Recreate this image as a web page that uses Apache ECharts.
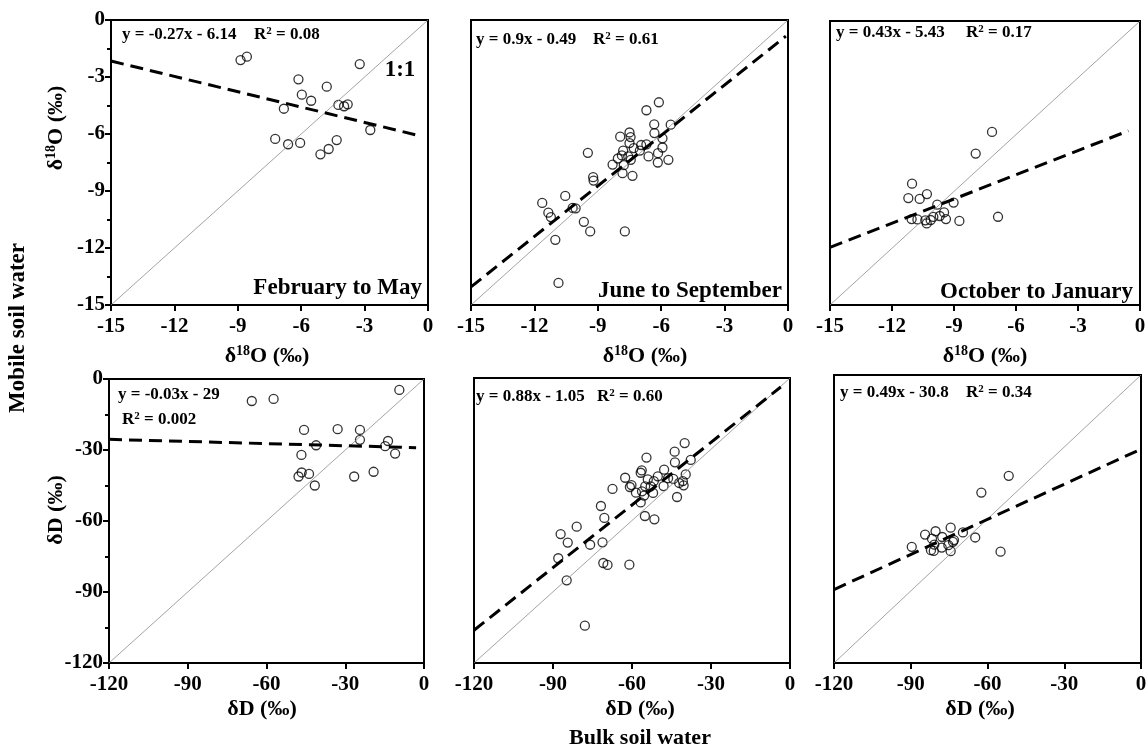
<!DOCTYPE html>
<html><head><meta charset="utf-8">
<script src="https://cdn.jsdelivr.net/npm/echarts@6/dist/echarts.min.js"></script>
<style>html,body{margin:0;padding:0;background:#fff}#c{width:1148px;height:751px}</style>
</head><body><div id="c"></div>
<script>
// ---------- data ----------
const periods = ['February to May', 'June to September', 'October to January'];
const o18Ticks = [-15, -12, -9, -6, -3, 0];
const dDTicks = [-120, -90, -60, -30, 0];

// [bulk soil water, mobile soil water]
const o18FebMay = [[-8.87,-2.11],[-8.57,-1.93],[-3.23,-2.32],[-6.13,-3.12],[-4.79,-3.51],[-5.97,-3.93],
  [-5.53,-4.25],[-6.82,-4.67],[-4.24,-4.47],[-3.97,-4.54],[-3.8,-4.44],[-2.73,-5.79],[-7.23,-6.26],
  [-6.62,-6.54],[-6.05,-6.47],[-4.32,-6.32],[-4.7,-6.79],[-5.09,-7.07]];
const o18JunSep = [[-6.11,-4.33],[-6.7,-4.75],[-6.33,-5.49],[-5.55,-5.51],[-6.32,-5.95],[-5.94,-6.23],
  [-7.94,-6.14],[-7.5,-5.92],[-7.45,-6.16],[-7.5,-6.48],[-6.95,-6.58],[-6.7,-6.55],[-7.01,-6.87],
  [-7.3,-6.74],[-7.8,-6.87],[-5.94,-6.71],[-6.15,-7.01],[-6.16,-7.5],[-5.66,-7.36],[-6.6,-7.18],
  [-7.56,-7.18],[-7.86,-7.13],[-8.05,-7.29],[-7.44,-7.36],[-8.3,-7.61],[-7.77,-7.64],[-7.83,-8.06],
  [-7.36,-8.2],[-9.47,-6.99],[-9.22,-8.27],[-9.2,-8.45],[-10.54,-9.26],[-11.63,-9.63],[-11.34,-10.14],
  [-11.22,-10.37],[-10.19,-9.89],[-10.05,-9.91],[-9.66,-10.62],[-9.36,-11.13],[-7.72,-11.13],
  [-11.01,-11.57],[-10.86,-13.84]];
const o18OctJan = [[-7.16,-5.86],[-7.95,-7.0],[-11.03,-8.59],[-11.21,-9.35],[-10.31,-9.14],[-10.66,-9.4],
  [-9.81,-9.7],[-9.02,-9.59],[-9.48,-10.11],[-9.69,-10.3],[-9.39,-10.46],[-10.0,-10.35],[-10.13,-10.51],
  [-10.39,-10.53],[-10.32,-10.69],[-10.77,-10.48],[-11.05,-10.46],[-8.74,-10.56],[-6.87,-10.34]];
const dDFebMay = [[-9.4,-4.6],[-65.6,-9.3],[-57.3,-8.4],[-45.7,-21.5],[-32.9,-21.2],[-24.4,-21.5],
  [-24.4,-25.7],[-41.1,-28.0],[-13.7,-26.2],[-14.8,-28.4],[-11.0,-31.5],[-46.7,-32.1],[-46.6,-39.5],
  [-47.8,-41.2],[-43.8,-40.1],[-41.6,-45.0],[-26.6,-41.2],[-19.2,-39.2]];
const dDJunSep = [[-40.0,-27.4],[-43.8,-31.0],[-43.7,-35.5],[-37.7,-34.5],[-54.5,-33.5],[-56.3,-38.9],
  [-56.7,-39.9],[-47.8,-38.6],[-39.6,-40.6],[-50.2,-41.4],[-54.0,-42.7],[-51.7,-43.4],[-46.3,-42.2],
  [-44.3,-42.5],[-40.7,-43.4],[-42.1,-44.2],[-40.4,-45.2],[-48.0,-45.5],[-62.6,-42.0],[-60.2,-45.1],
  [-60.8,-45.9],[-55.0,-45.6],[-52.9,-45.6],[-56.2,-47.7],[-58.5,-48.3],[-55.4,-49.5],[-52.0,-48.4],
  [-67.4,-46.7],[-56.7,-52.4],[-42.9,-50.1],[-71.8,-53.9],[-70.5,-58.9],[-55.1,-58.1],[-51.5,-59.5],
  [-81.0,-62.6],[-87.1,-65.7],[-84.4,-69.3],[-75.9,-70.2],[-71.2,-69.2],[-88.0,-75.9],[-70.9,-77.9],
  [-69.3,-78.7],[-61.0,-78.6],[-84.8,-85.2],[-77.9,-104.3]];
const dDOctJan = [[-51.7,-42.0],[-62.4,-49.0],[-74.4,-63.6],[-69.6,-65.6],[-80.3,-65.1],[-84.4,-66.5],
  [-81.7,-68.2],[-77.7,-67.5],[-73.1,-68.8],[-73.5,-69.5],[-80.8,-70.7],[-75.3,-70.9],[-77.9,-71.9],
  [-82.1,-73.0],[-81.0,-73.3],[-74.4,-73.4],[-89.6,-71.6],[-64.8,-67.7],[-54.9,-73.6]];

// fitted (dashed) regression lines, end points
const fitO18FebMay = [[-15,-2.16],[-0.55,-6.05]];
const fitO18JunSep = [[-15,-14.05],[-0.1,-0.85]];
const fitO18OctJan = [[-15,-11.96],[-0.56,-5.8]];
const fitDDFebMay = [[-120,-25.5],[-3.0,-29.0]];
const fitDDJunSep = [[-120,-106.2],[-3.5,-3.8]];
const fitDDOctJan = [[-120,-89.4],[-0.26,-31.0]];

const oneToOneO18 = [[-15,-15],[0,0]];
const oneToOneDD = [[-120,-120],[0,0]];

const eqTexts = ['y = -0.27x - 6.14', 'y = 0.9x - 0.49', 'y = 0.43x - 5.43',
                 'y = -0.03x - 29', 'y = 0.88x - 1.05', 'y = 0.49x - 30.8'];
const r2Texts = ['0.08', '0.61', '0.17', '0.002', '0.60', '0.34'];

// ---------- layout / style ----------
const FF = "'Liberation Serif','Times New Roman',serif";
const panelData = [o18FebMay, o18JunSep, o18OctJan, dDFebMay, dDJunSep, dDOctJan];
const panelFit = [fitO18FebMay, fitO18JunSep, fitO18OctJan, fitDDFebMay, fitDDJunSep, fitDDOctJan];
const gridBoxes = [
  {left:111, top:20, width:317, height:285},
  {left:471, top:20, width:317, height:285},
  {left:830, top:21, width:310, height:284},
  {left:109, top:379, width:315, height:284},
  {left:474, top:378, width:316, height:285},
  {left:834, top:375, width:307, height:288}
];
const eqPos = [[122,35,254,35],[476,40,593,40],[836,33,966,33],[118,395,122,420],[476,397,597,397],[840,393,966,393]];
const labelPos = [[422,288],[782,291],[1133,292]];

const grids = gridBoxes.map(b => Object.assign({show:true, borderColor:'#000', borderWidth:2,
  containLabel:false, outerBoundsMode:'none'}, b));

function axisFor(ticks, i, isY) {
  const firstCol = (i % 3 === 0);
  const showLabels = isY ? firstCol : true;
  return {
    type:'value', gridIndex:i, min:ticks[0], max:ticks[ticks.length-1], interval:ticks[1]-ticks[0],
    splitLine:{show:false},
    axisLine:{show:true, onZero:false, lineStyle:{color:'#000', width:2}},
    axisTick:{show:showLabels, length:6, lineStyle:{color:'#000', width:2}},
    minorTick:{show: isY && firstCol, splitNumber:2, length:4, lineStyle:{color:'#000', width:2}},
    axisLabel:{show:showLabels, color:'#000', fontSize:21, fontWeight:'bold', fontFamily:FF,
      margin: isY ? 6 : 11, showMinLabel:true, showMaxLabel:true, hideOverlap:false}
  };
}

const xAxes = [], yAxes = [], series = [];
for (let i = 0; i < 6; i++) {
  const ticks = i < 3 ? o18Ticks : dDTicks;
  xAxes.push(axisFor(ticks, i, false));
  yAxes.push(axisFor(ticks, i, true));
  series.push({type:'scatter', xAxisIndex:i, yAxisIndex:i, data:panelData[i], symbol:'circle', symbolSize:9,
    itemStyle:{color:'rgba(0,0,0,0)', borderColor:'#000', borderWidth:1.3}, silent:true, z:2});
  series.push({type:'line', xAxisIndex:i, yAxisIndex:i, data: i < 3 ? oneToOneO18 : oneToOneDD,
    symbol:'none', lineStyle:{color:'#8c8c8c', width:0.8}, silent:true, z:3});
  series.push({type:'line', xAxisIndex:i, yAxisIndex:i, data:panelFit[i],
    symbol:'none', lineStyle:{color:'#000', width:3, type:[13,7]}, silent:true, z:4});
}

const richBase = (size) => ({
  a:{fontSize:size, fontWeight:'bold', fontFamily:FF, fill:'#000', color:'#000', lineHeight:size+2},
  s:{fontSize:Math.round(size*0.62), fontWeight:'bold', fontFamily:FF, fill:'#000', color:'#000',
     verticalAlign:'top', lineHeight:Math.round(size*0.62)}
});

function txt(x, y, text, size, align, rot, rich) {
  const g = {type:'text', x:x, y:y, z:100, silent:true,
    style:{text:text, fontSize:size, fontWeight:'bold', fontFamily:FF, fill:'#000',
      align:align || 'left', verticalAlign:'middle'}};
  if (rich) g.style.rich = richBase(size);
  if (rot) g.rotation = rot;
  return g;
}

const graphics = [];
for (let i = 0; i < 6; i++) {
  const p = eqPos[i];
  graphics.push(txt(p[0], p[1], eqTexts[i], 17, 'left'));
  graphics.push(txt(p[2], p[3], '{a|R}{s|2}{a| = ' + r2Texts[i] + '}', 17, 'left', 0, true));
}
for (let j = 0; j < 3; j++) graphics.push(txt(labelPos[j][0], labelPos[j][1], periods[j], 23, 'right'));
graphics.push(txt(400, 70, '1:1', 23, 'center'));

const o18Title = '{a|δ}{s|18}{a|O (‰)}';
const dDTitle = '{a|δD (‰)}';
[[267,356],[645,356],[985,356]].forEach(p => graphics.push(txt(p[0], p[1], o18Title, 22, 'center', 0, true)));
[[262,709],[640,709],[980,709]].forEach(p => graphics.push(txt(p[0], p[1], dDTitle, 22, 'center', 0, true)));
graphics.push(txt(56, 128, o18Title, 22, 'center', Math.PI/2, true));
graphics.push(txt(56, 510, dDTitle, 22, 'center', Math.PI/2, true));
graphics.push(txt(18, 328, 'Mobile soil water', 23, 'center', Math.PI/2));
graphics.push(txt(640, 738, 'Bulk soil water', 22, 'center'));

const chart = echarts.init(document.getElementById('c'));
chart.setOption({
  animation:false,
  backgroundColor:'#fff',
  grid:grids, xAxis:xAxes, yAxis:yAxes, series:series,
  graphic:graphics
});
</script></body></html>
